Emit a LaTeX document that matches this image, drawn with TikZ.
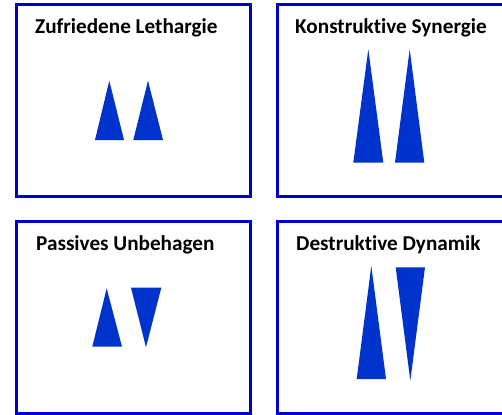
\documentclass[tikz,border=0pt]{standalone}
\usepackage{fontspec}
\setmainfont[Ligatures=NoCommon]{Carlito}
\definecolor{panelblue}{RGB}{0,0,204}
\definecolor{wedgeblue}{RGB}{0,51,204}
\begin{document}
\begin{tikzpicture}[x=1pt,y=-1pt,
  panel/.style={draw=panelblue, line width=3.2pt},
  title/.style={anchor=base west, inner sep=0pt, text=black,
    font=\bfseries\fontsize{21.2}{24}\selectfont},
  wedge/.style={fill=wedgeblue, draw=none}]
\useasboundingbox (0,0) rectangle (502,414);
\clip (0,0) rectangle (502,414);

% four panels
\draw[panel] (16.7,4.7)   rectangle (250.5,196.5);
\draw[panel] (277.5,4.7)  rectangle (511.3,196.5);
\draw[panel] (16.7,221.5) rectangle (250.5,413.2);
\draw[panel] (277.5,221.5) rectangle (511.3,413.2);

% titles
\node[title] (t1) at (35,33.3)   {Zufriedene Lethargie};
\node[title] (t2) at (295,33.3)  {Konstruktive Synergie};
\node[title] (t3) at (36,250.7)  {Passives Unbehagen};
\node[title] (t4) at (296,250.2) {Destruktive Dynamik};

% top left: two short wedges pointing up
\fill[wedge] (95,140) -- (109.3,80.7) -- (124,140) -- cycle;
\fill[wedge] (133.3,140) -- (148,80.7) -- (163,140) -- cycle;

% top right: two tall wedges pointing up
\fill[wedge] (353.3,162.7) -- (368.3,49.3) -- (383.3,162.7) -- cycle;
\fill[wedge] (395,162.7) -- (409.7,49.3) -- (424.3,162.7) -- cycle;

% bottom left: one up, one down (short)
\fill[wedge] (92.3,346.7) -- (106.7,288.3) -- (122,346.7) -- cycle;
\fill[wedge] (131,287.7) -- (161.3,287.7) -- (146,347.3) -- cycle;

% bottom right: one up, one down (tall)
\fill[wedge] (356.7,379) -- (371.3,266) -- (386,379) -- cycle;
\fill[wedge] (395.7,267.3) -- (425,267.3) -- (410.3,380.7) -- cycle;
\end{tikzpicture}
\end{document}
